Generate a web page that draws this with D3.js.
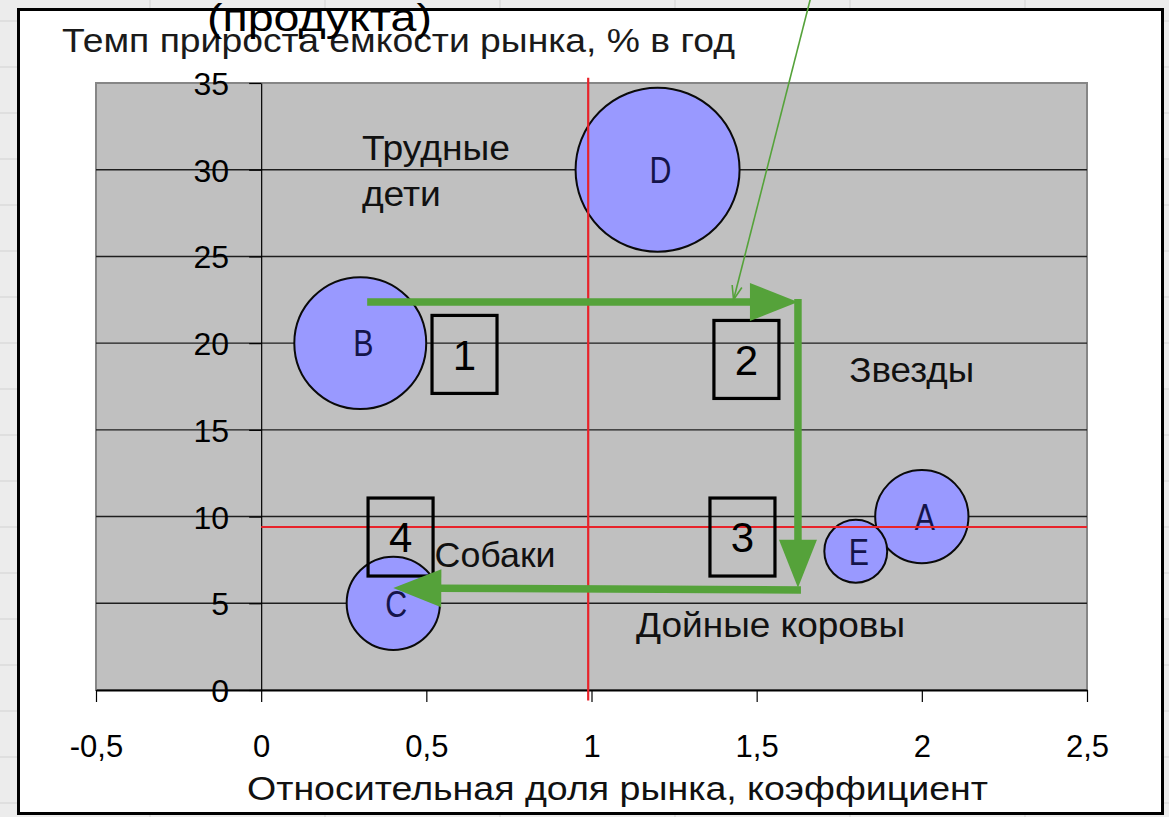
<!DOCTYPE html>
<html><head><meta charset="utf-8">
<script src="https://cdn.jsdelivr.net/npm/d3@7"></script>
<style>html,body{margin:0;padding:0;background:#ececec;overflow:hidden}svg{display:block}text{font-family:"Liberation Sans",Arial,sans-serif}</style>
</head><body>
<script>
// ---- data ----
const names  = ["A","B","C","D","E"];
const share  = [2.0, 0.3, 0.4, 1.2, 1.8];      // relative market share
const growth = [10, 20, 5, 30, 8];             // market growth, %/year
const sizes  = [11, 22, 11, 34, 5];            // bubble size
const xTicks = [-0.5, 0, 0.5, 1, 1.5, 2, 2.5];
const xTickLabels = ["-0,5","0","0,5","1","1,5","2","2,5"];
const yTicks = [0, 5, 10, 15, 20, 25, 30, 35];
const yTickLabels = ["0","5","10","15","20","25","30","35"];
const refX = 0.99, refY = 9.4;                 // red dividing lines
const quadText = ["Трудные","дети","Звезды","Собаки","Дойные коровы"];
const quadX = [0.305, 0.305, 1.78, 0.525, 1.135];
const quadY = [30.56, 27.9, 17.75, 7.09, 3.06];
const quadLen = [148, 79, 125, 121, 269];
const boxLabels = ["1","2","3","4"];
const boxX = [0.6156, 1.469, 1.457, 0.422];
const boxY = [19.35, 19.06, 8.82, 8.82];
const arrowFrom = [[0.33,22.37],[1.625,22.37],[1.625,5.77]];
const arrowTo   = [[1.625,22.37],[1.625,5.9],[0.40,5.88]];
const titleY = "Темп прироста емкости рынка, % в год";
const titleX = "Относительная доля рынка, коэффициент";
const noteTop = "(продукта)";

// ---- layout ----
const W=1169,H=817;
const P={l:96,r:1087,t:83,b:690};
const svg=d3.select("body").append("svg").attr("width",W).attr("height",H);

// spreadsheet background
svg.append("rect").attr("width",W).attr("height",H).attr("fill","#ececec");
const bg=svg.append("g").attr("stroke","#d2d2d2").attr("stroke-width",1);
d3.range(21,H,46).forEach(yy=>bg.append("line").attr("x1",0).attr("x2",W).attr("y1",yy).attr("y2",yy));
d3.range(150,W,175).forEach(xx=>bg.append("line").attr("x1",xx).attr("x2",xx).attr("y1",0).attr("y2",H));
// chart area
svg.append("rect").attr("x",18.5).attr("y",9.5).attr("width",1144).attr("height",804)
  .attr("fill","#fff").attr("stroke","#000").attr("stroke-width",3);

const x=d3.scaleLinear().domain([-0.5,2.5]).range([P.l,P.r]);
const y=d3.scaleLinear().domain([0,35]).range([P.b,P.t]);
const r=d3.scaleSqrt().domain([0,d3.max(sizes)]).range([0,82]);

// plot area
svg.append("rect").attr("x",P.l).attr("y",P.t).attr("width",P.r-P.l).attr("height",P.b-P.t)
  .attr("fill","#c0c0c0").attr("stroke","#868686").attr("stroke-width",2);

// gridlines
svg.append("g").selectAll("line").data(yTicks.filter(v=>v>0&&v<35)).join("line")
  .attr("x1",P.l).attr("x2",P.r).attr("y1",d=>y(d)).attr("y2",d=>y(d))
  .attr("stroke","#1e1e1e").attr("stroke-width",1.4);

// y axis at x=0
const yAxis=d3.axisLeft(y).tickValues(yTicks).tickFormat((d,i)=>yTickLabels[i]).tickSize(12).tickSizeOuter(0);
const gy=svg.append("g").attr("transform",`translate(${x(0)},0)`).call(yAxis);
gy.select(".domain").attr("stroke","#000").attr("stroke-width",1.2);
gy.selectAll(".tick line").attr("stroke","#000").attr("stroke-width",1.2);
gy.selectAll(".tick text").attr("x",-32).attr("dy","0.36em").attr("font-size",32)
  .attr("font-family","'Liberation Sans',Arial,sans-serif").attr("fill","#000");

// x axis at y=0
const xAxis=d3.axisBottom(x).tickValues(xTicks).tickFormat((d,i)=>xTickLabels[i]).tickSize(12).tickSizeOuter(0);
const gx=svg.append("g").attr("transform",`translate(0,${y(0)})`).call(xAxis);
gx.select(".domain").attr("stroke","#000").attr("stroke-width",2.2);
gx.selectAll(".tick line").attr("stroke","#000").attr("stroke-width",1.2);
gx.selectAll(".tick text").attr("y",56).attr("dy","0.36em").attr("font-size",31)
  .attr("font-family","'Liberation Sans',Arial,sans-serif").attr("fill","#000");

// bubbles
const bubbles=names.map((n,i)=>({n,x:share[i],y:growth[i],s:sizes[i]}));
const bg2=svg.append("g");
bg2.selectAll("circle").data(bubbles.slice().sort((a,b)=>b.s-a.s)).join("circle")
  .attr("cx",d=>x(d.x)).attr("cy",d=>y(d.y)).attr("r",d=>r(d.s))
  .attr("fill","#9999ff").attr("stroke","#0a0a0a").attr("stroke-width",2);
bg2.selectAll("text").data(bubbles).join("text")
  .attr("transform",d=>`translate(${x(d.x)+3},${y(d.y)}) scale(0.82,1)`)
  .attr("dy","0.36em").attr("text-anchor","middle")
  .attr("font-size",37).attr("fill","#14144a").text(d=>d.n);

// red dividing lines
svg.append("line").attr("x1",x(refX)).attr("x2",x(refX)).attr("y1",y(35.3)).attr("y2",y(-0.6))
  .attr("stroke","#e8232a").attr("stroke-width",2.2);
svg.append("line").attr("x1",x(0)).attr("x2",x(2.5)).attr("y1",y(refY)).attr("y2",y(refY))
  .attr("stroke","#e8232a").attr("stroke-width",2.2);

// quadrant labels
svg.append("g").selectAll("text").data(quadText).join("text")
  .attr("x",(d,i)=>x(quadX[i])).attr("y",(d,i)=>y(quadY[i])).attr("font-size",35).attr("fill","#111")
  .attr("textLength",(d,i)=>quadLen[i]).attr("lengthAdjust","spacingAndGlyphs").text(d=>d);

// numbered boxes
const bw=65,bh=78;
const gb=svg.append("g");
boxLabels.forEach((b,i)=>{
  const cx=x(boxX[i]),cy=y(boxY[i]);
  gb.append("rect").attr("x",cx-bw/2).attr("y",cy-bh/2).attr("width",bw).attr("height",bh)
    .attr("fill","none").attr("stroke","#000").attr("stroke-width",3.2);
  gb.append("text").attr("x",cx).attr("y",cy).attr("dy","0.36em").attr("text-anchor","middle")
    .attr("font-family","'Noto Sans','Open Sans',sans-serif").attr("font-size",42).attr("fill","#000").text(b);
});

// green arrows
const green="#55a23a";
const ga=svg.append("g");
arrowFrom.forEach((f,i)=>{
  const x0=x(f[0]),y0=y(f[1]),x1=x(arrowTo[i][0]),y1=y(arrowTo[i][1]);
  const dx=x1-x0,dy=y1-y0,L=Math.hypot(dx,dy),ux=dx/L,uy=dy/L;
  const hl=48,hw=19;
  const bx=x1-ux*hl,by=y1-uy*hl;
  ga.append("line").attr("x1",x0-ux*3).attr("y1",y0-uy*3).attr("x2",bx+ux*4).attr("y2",by+uy*4)
    .attr("stroke",green).attr("stroke-width",7.5);
  ga.append("path").attr("d",`M${x1},${y1}L${bx-uy*hw},${by+ux*hw}L${bx+uy*hw},${by-ux*hw}Z`).attr("fill",green);
});
// thin green pointer line
{
  const x0=x(1.67),y0=y(40.4),x1=x(1.43),y1=y(22.5);
  const dx=x1-x0,dy=y1-y0,L=Math.hypot(dx,dy),ux=dx/L,uy=dy/L;
  ga.append("line").attr("x1",x0).attr("y1",y0).attr("x2",x1).attr("y2",y1).attr("stroke",green).attr("stroke-width",1.6);
  const bx=x1-ux*14,by=y1-uy*14;
  ga.append("path").attr("d",`M${bx-uy*5},${by+ux*5}L${x1},${y1}L${bx+uy*5},${by-ux*5}`)
    .attr("fill","none").attr("stroke",green).attr("stroke-width",1.6);
}

// titles
svg.append("text").attr("x",62).attr("y",52).attr("font-size",33).attr("fill","#1a1a1a")
  .attr("textLength",673).attr("lengthAdjust","spacingAndGlyphs").text(titleY);
svg.append("text").attr("x",207).attr("y",31).attr("font-size",38).attr("fill","#000")
  .attr("textLength",225).attr("lengthAdjust","spacingAndGlyphs").text(noteTop);
svg.append("text").attr("x",247).attr("y",800).attr("font-size",33).attr("fill","#111")
  .attr("textLength",741).attr("lengthAdjust","spacingAndGlyphs").text(titleX);
</script>
</body></html>
